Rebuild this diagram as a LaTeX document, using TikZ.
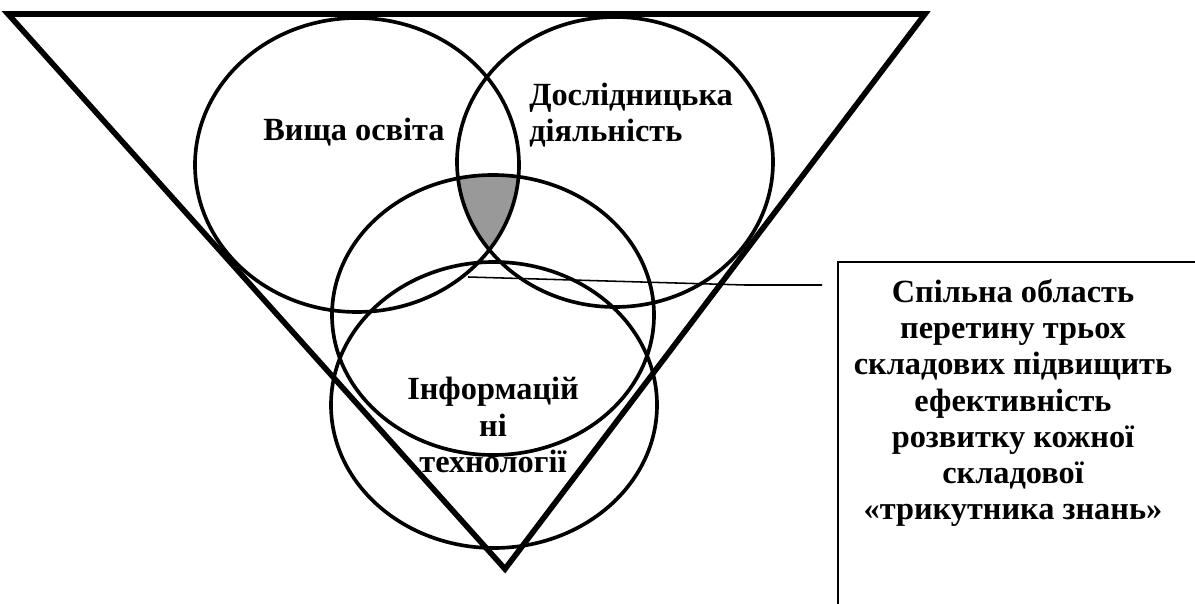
\documentclass[tikz,border=0pt]{standalone}
\usepackage{fontspec}
\setmainfont{Liberation Serif}
\usepackage{tikz}
\usetikzlibrary{positioning,calc}

\begin{document}
\begin{tikzpicture}[x=0.025cm, y=0.025cm,
    areatext/.style={font=\bfseries\fontsize{23}{25.8}\selectfont, align=center, inner sep=0pt},
    ring/.style={draw, line width=2.6pt}]
    \useasboundingbox (0,0) rectangle (1195,604);
    % common area of three circles
    \begin{scope}
        \clip (357,439) ellipse [x radius=162, y radius=147];
        \clip (615,442) ellipse [x radius=158, y radius=145];
        \fill [black!40] (493,289) ellipse [x radius=161, y radius=140];
    \end{scope}
    % knowledge triangle
    \coordinate (tl) at (8,590);
    \coordinate (tr) at (925,590);
    \coordinate (tb) at (505,35);
    \draw [line width=4pt, line join=miter] (tl) -- (tr) -- (tb) -- cycle;
    % circles
    \path [ring] (357,439) ellipse [x radius=162, y radius=147];
    \path [ring] (615,442) ellipse [x radius=158, y radius=145];
    \path [ring] (493,289) ellipse [x radius=161, y radius=140];
    \path [ring] (494,199) ellipse [x radius=163, y radius=143];
    \node [areatext] (vo) at (354,472) {Вища освіта};
    \node [areatext, align=left, anchor=west] (dd) at (529,489) {Дослідницька\\діяльність};
    \node [areatext] (it) at (493,179) {Інформацій\\ні\\технології};
    % note box
    \node [draw, line width=1.2pt, anchor=north west, minimum width=12cm, minimum height=10cm] (note) at (837,343) {};
    \node [areatext] (notetext) at (1013,201) {Спільна область\\перетину трьох\\складових підвищить\\ефективність\\розвитку кожної\\складової\\«трикутника знань»};
    \coordinate (gap) at (468,327);
    \coordinate (bend) at (745,319);
    \coordinate (end) at (822,319);
    \draw [line width=1.1pt] (gap) -- (bend) -- (end);
\end{tikzpicture}
\end{document}
